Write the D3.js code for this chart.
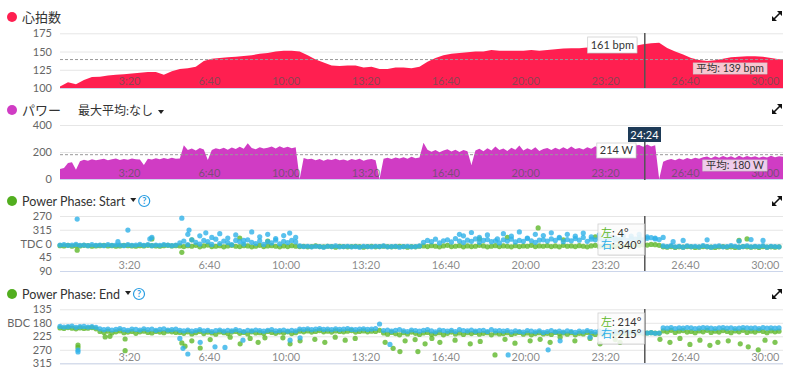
<!DOCTYPE html>
<html><head><meta charset="utf-8">
<script src="https://cdn.jsdelivr.net/npm/d3@7"></script>
<style>
body{margin:0;background:#fff;}
svg{display:block;font-family:Lato,"Noto Sans CJK JP",sans-serif;}
</style></head><body>
<svg id="c" width="800" height="384"></svg>
<script>
// ---------------- DATA ----------------
const hrInterval = 20; // seconds between heart-rate samples
const hrBpm = [102,108,105,111,115,115.5,117,118,119,120,121,122,122,118,123,126,127,129,137,140,
141,142,143,144,145,147,148,150,151,151,150,145,139,135,131,130,131,131,128,129,
126,126,128,128,127,129,136,141,145,147,148,149,150,150,152,151,151,151,151,152,
151,152,153,154,154.5,154.5,155.5,156,157,157,157.5,158,158,160,161.5,162,155,150,146,141,
138.5,137,138,140,142,143,143.5,143.5,143,141,139.5,139.5];
const hrAvg = 139;
const hrCursor = 161;

const pwInterval = 10;
const powerW = [75,82,118,124,68,132,142,136,146,138,144,150,139,147,152,141,149,143,152,146,
144,104,150,145,154,147,156,149,158,150,152,250,214,226,212,230,218,140,214,228,
220,232,216,234,222,238,224,264,230,220,236,226,232,240,226,242,230,238,228,236,
0,156,146,150,138,148,136,146,140,150,138,144,136,148,140,150,136,144,148,138,
0,150,158,148,160,152,162,150,164,154,160,268,216,202,214,198,212,220,204,216,
200,214,206,104,212,224,206,228,212,240,214,226,208,232,216,248,212,228,214,236,
208,222,230,214,232,218,236,220,240,222,230,218,236,224,242,226,236,222,244,228,
240,230,246,232,248,252,238,256,240,250,0,128,140,148,138,152,142,156,146,158,
150,162,166,154,168,158,170,160,168,156,172,160,170,162,168,158,166,160,172,162,
168,164];
const powerAvg = 180;
const powerCursor = 214;

const phInterval = 10;
// Power phase start, degrees relative to TDC (negative = 270..360)
const startRight = [5,4,6,5,3,6,5,7,4,6,5,7,4,6,5,5,7,4,6,5,3,6,4,7,5,6,4,5,7,5,
-2,-8,4,-12,-4,2,-10,-6,3,-14,0,-8,-3,4,-10,-6,2,-12,-4,0,-9,3,-6,-2,-11,1,-7,-3,-10,-5,
8,10,9,11,9,10,12,9,10,8,11,10,9,11,10,12,9,10,11,9,10,8,11,10,9,12,10,9,11,10,8,
-4,-10,-6,-14,-2,-9,-12,-5,-16,-8,-3,-11,-7,-15,-4,-10,-13,-6,-9,-2,-12,-8,-14,-5,-10,-7,-16,-9,-4,-11,
-12,-8,-15,-10,-18,-6,-13,-9,-16,-11,-20,-7,-14,-12,-17,-9,-15,-19,-11,-13,-18,-10,-16,-14,-20,-12,-17,-19,-15,-13,
8,10,7,11,9,12,8,10,9,11,7,10,12,9,8,11,10,7,9,12,10,8,11,9,10,7,12,9,10,11];
const startLeft = [7,8,6,9,7,8,6,7,9,8,7,6,8,7,9,8,6,7,8,9,7,8,6,7,8,9,7,6,8,7,
8,10,7,9,6,11,8,5,10,9,7,11,8,6,9,10,7,8,11,9,6,10,8,7,9,11,8,10,7,9,
10,9,11,10,8,10,11,9,10,12,9,10,11,10,9,10,12,10,9,11,10,9,10,11,10,9,10,12,10,11,9,
8,10,7,9,11,8,6,10,9,7,11,8,10,9,6,8,11,9,7,10,8,9,11,7,10,8,9,6,10,8,
9,7,10,8,11,6,9,8,10,7,9,11,8,6,10,9,7,8,10,6,9,8,7,5,6,4,5,3,4,6,
11,12,10,13,11,12,10,11,13,12,10,11,12,13,11,10,12,11,13,12,10,11,12,11,13,10,12,11,12,11];
const startRightExtra = [[43,-80],[145,-6],[170,-44],[225,-15],[230,-20],[305,-83],[323,-44],[320,-30],[350,-25],[365,-35],
[380,-20],[400,-32],[420,-18],[440,-28],[460,-10],[480,-38],[500,-22],[520,-30],[540,-16],[560,-26],[575,-34],[590,-20],
[1000,-30],[1010,-25],[1030,-36],[1050,-20],[1070,-28],[1095,-15],[1110,-32],[1130,-24],[1150,-38],[1170,-18],[1190,-30],
[1210,-26],[1230,-35],[1250,-20],[1270,-30],[1290,-24],[1310,-34],[1330,-22],[1350,-28],[1370,-32],[1390,-18],[1410,-26],
[1430,-24],[1450,-30],[1470,-22],[1490,-18],[1510,-20],[1535,-6],[1560,-10],[1620,-12],[1700,-8],[1730,-13],[1760,-10]];
const startLeftExtra = [[43,22],[230,-15],[305,29],[330,-12],[450,-18],[520,-8],[1050,-15],[1120,-20],[1197,-51],
[1260,-12],[1340,-22],[1400,-10],[1450,-14],[1700,-10],[1720,-15]];

// Power phase end, degrees
const endRight = [192,194,193,191,195,193,192,194,193,195,
200,203,201,204,202,199,203,205,201,202,204,200,203,201,205,202,200,204,203,201,
205,207,204,208,206,203,207,205,209,206,204,208,205,207,203,206,209,205,207,204,206,208,205,203,207,206,204,208,205,207,
201,202,200,203,201,199,202,201,203,200,202,201,199,202,203,201,200,202,201,199,
184,
206,204,208,205,203,207,209,204,206,208,205,203,207,210,204,206,208,205,209,203,206,207,204,208,206,205,209,203,207,206,
208,206,210,207,209,211,206,208,210,207,212,209,206,210,208,211,207,209,212,208,210,206,209,211,208,210,207,212,209,211,208,210,213,209,211,212,214,213,215,214,
197,198,196,199,197,198,196,197,199,198,196,197,198,199,197,196,198,197,199,198,196,197,198,197,199,196,198,197,198,197];
const endLeft = [197,199,196,198,200,197,199,198,196,200,
209,212,208,214,210,207,213,211,209,215,210,208,212,214,209,211,213,208,210,212,
212,215,210,217,213,209,216,211,214,218,210,213,216,211,209,215,212,217,210,214,213,216,209,212,215,211,214,210,216,213,
208,210,207,211,209,206,210,208,211,207,209,210,208,206,211,209,207,210,208,209,
205,
214,218,212,216,220,213,217,211,215,219,214,212,218,216,213,220,215,211,217,214,219,213,216,212,218,215,213,220,214,217,
216,213,219,215,212,218,214,220,216,213,217,215,219,212,216,214,218,213,220,215,217,212,216,219,214,218,213,215,217,214,216,219,213,215,214,216,214,213,214,215,
207,210,205,212,208,206,211,209,213,207,210,205,212,208,211,206,209,213,207,210,205,212,208,211,206,209,213,207,210,208];
const endLeftExtra = [[45,254],[45,262],[113,227],[125,225],[163,234],[163,273],[305,247],[313,258],[330,240],[351,264],
[376,236],[426,228],[451,250],[476,232],[496,245],[513,230],[558,230],[576,250],[601,240],[638,235],[663,245],[689,228],
[714,238],[739,232],[814,245],[834,265],[851,276],[864,240],[889,236],[896,276],[914,250],[931,232],[951,245],[989,238],
[1027,250],[1052,242],[1089,287],[1114,235],[1139,248],[1177,240],[1202,235],[1227,245],[1252,228],[1289,240],[1327,232],
[1352,250],[1390,236],[1402,245],[1502,235],[1527,245],[1552,232],[1577,252],[1602,238],[1627,255],[1647,245],[1673,240],
[1703,250],[1723,260],[1748,270],[1765,238],[1790,245]];
const endRightExtra = [[45,271],[45,277],[300,232],[308,265],[320,284],[351,245],[388,260],[413,262],[458,238],[576,238],
[601,230],[826,252],[1122,287],[1222,270],[1252,240],[1327,228]];

const cursorTime = 1464; // 24:24
const cursorLabel = "24:24";
const hrTicks = [100,125,150,175];
const powerTicks = [0,200,400];
const startTicks = [-90,-45,0,45,90];
const startTickLabels = ["270","315","TDC 0","45","90"];
const endTicks = [135,180,225,270,315];
const endTickLabels = ["135","BDC 180","225","270","315"];
const timeTicks = [200,400,600,800,1000,1200,1400,1600,1800];
const timeLabels = ["3:20","6:40","10:00","13:20","16:40","20:00","23:20","26:40","30:00"];
const tEnd = 1810;

// ---------------- DRAW ----------------
const svg = d3.select("#c");
const X0 = 60, X1 = 783;
const x = d3.scaleLinear().domain([0, tEnd]).range([X0, X1]);
const C = {hr:"#ff1f50", pw:"#d03cc4", green:"#5fb82b", blue:"#2fb1e8", grid:"#e6e6e6", axis:"#ccd6eb", tick:"#666"};
const FONT = 'Lato,"Noto Sans CJK JP",sans-serif';

function yAxis(y, ticks, labels){
  const g = svg.append("g").attr("transform",`translate(${X0},0)`);
  g.call(d3.axisLeft(y).tickValues(ticks).tickSize(-(X1-X0)).tickPadding(8)
    .tickFormat((d,i)=>labels?labels[i]:d));
  g.select(".domain").remove();
  g.selectAll(".tick line").attr("stroke",C.grid);
  g.selectAll(".tick text").attr("fill",C.tick).style("font-size","11px").style("font-family",FONT);
  const yb = d3.max(y.range());
  svg.append("line").attr("x1",X0).attr("x2",X1).attr("y1",yb+0.5).attr("y2",yb+0.5).attr("stroke",C.axis);
}
function xLabels(yb, lift){
  const g = svg.append("g").attr("transform",`translate(0,${yb})`);
  g.call(d3.axisBottom(x).tickValues(timeTicks).tickSize(0).tickFormat((d,i)=>timeLabels[i]));
  g.select(".domain").remove();
  g.selectAll(".tick text").attr("y",-lift).attr("dy",0).attr("text-anchor","end")
    .attr("fill","#555").attr("fill-opacity",0.7).style("font-size","11px")
    .style("font-family",FONT);
}
function title(yc, color, text, size){
  svg.append("circle").attr("cx",12).attr("cy",yc).attr("r",5).attr("fill",color);
  return svg.append("text").attr("x",22).attr("y",yc+4.5).attr("fill","#333").style("font-size",size||"13px").text(text);
}
function caret(xp, yc){
  svg.append("path").attr("d",`M${xp},${yc-2}L${xp+6},${yc-2}L${xp+3},${yc+2}Z`).attr("fill","#222");
}
function help(cx, cy){
  svg.append("circle").attr("cx",cx).attr("cy",cy).attr("r",5.5).attr("fill","none").attr("stroke","#2a9de2").attr("stroke-width",1.2);
  svg.append("text").attr("x",cx).attr("y",cy+3.2).attr("text-anchor","middle").attr("fill","#2a9de2").style("font-size","9px").style("font-weight","bold").text("?");
}
function expand(cx, cy){
  svg.append("path").attr("d",`M${cx+5},${cy-5}L${cx+5},${cy}L${cx},${cy-5}Z M${cx-5},${cy+5}L${cx-5},${cy}L${cx},${cy+5}Z`).attr("fill","#111");
  svg.append("line").attr("x1",cx-3).attr("y1",cy+3).attr("x2",cx+3).attr("y2",cy-3).attr("stroke","#111").attr("stroke-width",1.6);
}
function box(x0,y0,w,h,fill,op){
  svg.append("rect").attr("x",x0+1).attr("y",y0+1).attr("width",w).attr("height",h).attr("fill","#000").attr("opacity",0.08);
  svg.append("rect").attr("x",x0).attr("y",y0).attr("width",w).attr("height",h).attr("fill",fill).attr("fill-opacity",op)
    .attr("stroke", fill==="#fff"?"#d0d0d0":"none").attr("stroke-width",0.8);
}
function label(xa, y0, h, text, op, right, size){
  const t = svg.append("text").attr("y",y0+h/2+3.8).attr("fill","#333").style("font-size",size||"11px").text(text);
  const w = t.node().getComputedTextLength()+6;
  const bx = right ? xa-w : xa;
  t.attr("x",bx+3);
  box(bx,y0,w,h,"#fff",op);
  t.raise();
}
function cursor(y0,y1){
  svg.append("line").attr("x1",x(cursorTime)).attr("x2",x(cursorTime)).attr("y1",y0).attr("y2",y1).attr("stroke","#555").attr("stroke-width",1.5);
}
function avgLine(yv){
  svg.append("line").attr("x1",X0).attr("x2",X1).attr("y1",yv).attr("y2",yv).attr("stroke","#999").attr("stroke-dasharray","3,2");
}

// ---- Panel 1: heart rate
const yHR = d3.scaleLinear().domain([100,175]).range([88,33.3]);
title(17,C.hr,"心拍数");
expand(777,16);
yAxis(yHR, hrTicks);
const hrData = hrBpm.map((v,i)=>({t:Math.min(i*hrInterval,tEnd), v}));
hrData.push({t:tEnd, v:hrBpm[hrBpm.length-1]});
svg.append("path").datum(hrData).attr("fill",C.hr)
  .attr("d",d3.area().x(d=>x(d.t)).y0(yHR(100)).y1(d=>yHR(d.v)));
avgLine(yHR(hrAvg));
xLabels(88,3);
cursor(33,88);
label(637,37,16,`${hrCursor} bpm`,1,true);
label(767,63,11,`平均: ${hrAvg} bpm`,0.75,true,"10.5px");

// ---- Panel 2: power
title(110,C.pw,"パワー");
const mx = svg.append("text").attr("x",78).attr("y",114.5).attr("fill","#333").style("font-size","12px").text("最大平均:なし");
caret(78+mx.node().getComputedTextLength()+5,112);
expand(777,109);
const yPW = d3.scaleLinear().domain([0,400]).range([179,125]);
yAxis(yPW, powerTicks);
const pwData = powerW.map((v,i)=>({t:Math.min(i*pwInterval,tEnd), v}));
svg.append("path").datum(pwData).attr("fill",C.pw)
  .attr("d",d3.area().x(d=>x(d.t)).y0(yPW(0)).y1(d=>yPW(d.v)));
avgLine(yPW(powerAvg));
xLabels(179,2);
cursor(141,180);
svg.append("rect").attr("x",628).attr("y",127).attr("width",33).attr("height",15).attr("fill","#1d3a57");
svg.append("text").attr("x",644.5).attr("y",138.5).attr("text-anchor","middle").attr("fill","#fff").style("font-size","11px").text(cursorLabel);
label(636,143,15,`${powerCursor} W`,1,true);
label(767,160,11,`平均: ${powerAvg} W`,0.75,true,"10.5px");

// ---- scatter helper
function scatter(arr, extra, y, color){
  const pts = arr.map((v,i)=>[Math.min(i*phInterval,tEnd), v]).concat(extra);
  svg.append("g").selectAll("circle").data(pts).join("circle")
    .attr("cx",d=>x(d[0])).attr("cy",d=>y(d[1])).attr("r",2.6)
    .attr("fill",color).attr("fill-opacity",0.8);
}
function phaseTip(y0, l, r){
  const g = svg.append("g");
  const t1 = g.append("text").attr("x",601).attr("y",y0+12.5).style("font-size","11px");
  t1.append("tspan").attr("fill",C.green).text("左");
  t1.append("tspan").attr("fill","#333").text(": "+l);
  const t2 = g.append("text").attr("x",601).attr("y",y0+25).style("font-size","11px");
  t2.append("tspan").attr("fill",C.blue).text("右");
  t2.append("tspan").attr("fill","#333").text(": "+r);
  const w = Math.max(t1.node().getComputedTextLength(), t2.node().getComputedTextLength())+6;
  box(598,y0,Math.max(w,39),31,"#fff",0.85);
  g.raise();
}

// ---- Panel 3: power phase start
const t3 = title(201,"#52ae1f","Power Phase: Start","12.5px");
const e3 = 22+t3.node().getComputedTextLength();
caret(e3+5,200);
help(e3+19,201);
expand(777,201);
const yST = d3.scaleLinear().domain([-90,90]).range([216,271]);
yAxis(yST, startTicks, startTickLabels);
scatter(startLeft, startLeftExtra, yST, C.green);
scatter(startRight, startRightExtra, yST, C.blue);
xLabels(271,2);
cursor(216,271);
phaseTip(224,"4°","340°");

// ---- Panel 4: power phase end
const t4 = title(294,"#52ae1f","Power Phase: End","12.5px");
const e4 = 22+t4.node().getComputedTextLength();
caret(e4+5,293);
help(e4+19,294);
expand(777,294);
const yEN = d3.scaleLinear().domain([135,315]).range([309.3,363.3]);
yAxis(yEN, endTicks, endTickLabels);
scatter(endLeft, endLeftExtra, yEN, C.green);
scatter(endRight, endRightExtra, yEN, C.blue);
xLabels(363.3,2);
cursor(309,363);
phaseTip(313,"214°","215°");
</script>
</body></html>
